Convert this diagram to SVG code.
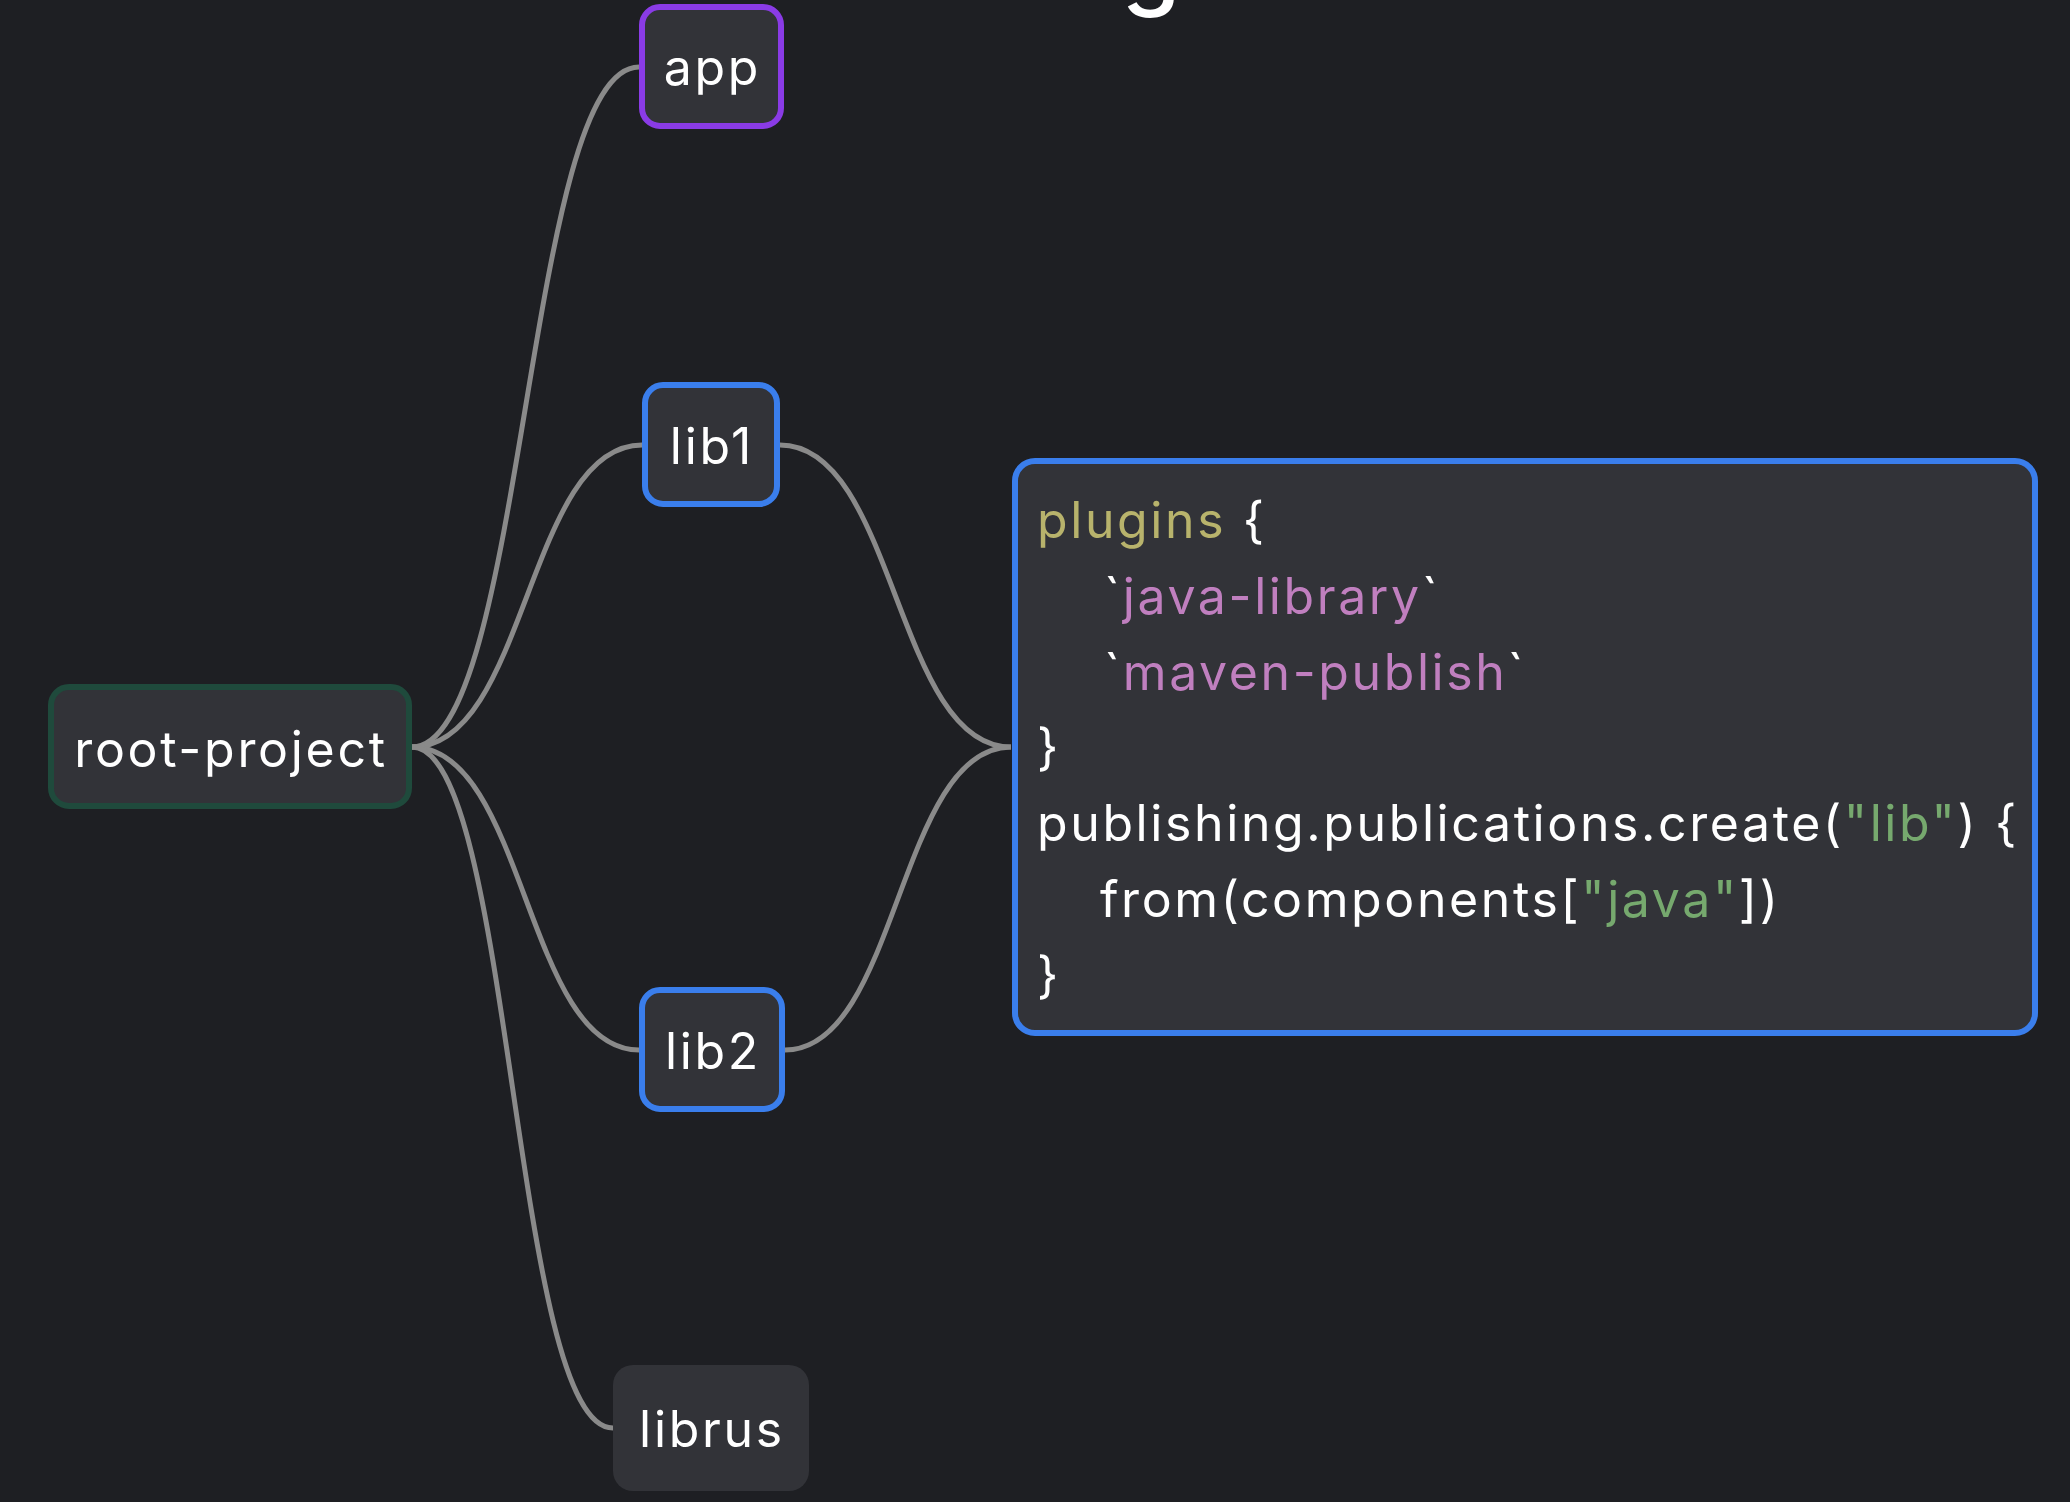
<svg xmlns="http://www.w3.org/2000/svg" width="2070" height="1502" viewBox="0 0 2070 1502">
<style>
.bg{fill:#1e1f23}
.node{fill:#323338;stroke-width:6}
.lbl{font-family:Inter,"Noto Sans",sans-serif;font-size:50px;fill:#ffffff;text-anchor:middle;letter-spacing:2.7px}
.code{font-family:Inter,"Noto Sans",sans-serif;font-size:50px;fill:#ffffff;letter-spacing:2.6px}
.kw{fill:#b8b36c}
.str{fill:#c07fbf}
.lit{fill:#76a96e}
.link{fill:none;stroke:#8a8a8a;stroke-width:5}
</style>
<rect class="bg" x="0" y="0" width="2070" height="1502"/>
<text x="1151" y="-3" font-family="Inter,'Noto Sans',sans-serif" font-size="96" font-weight="500" fill="#ffffff" text-anchor="middle">g</text>
<g id="connectors">
<path class="link" d="M412,747 C525.5,747 525.5,67 639,67"/>
<path class="link" d="M412,747 C527,747 527,445 642,445"/>
<path class="link" d="M412,747 C525.5,747 525.5,1050 639,1050"/>
<path class="link" d="M412,747 C512.5,747 512.5,1428 613,1428"/>
<path class="link" d="M780,445 C895.5,445 895.5,747 1011,747"/>
<path class="link" d="M785,1050 C898,1050 898,747 1011,747"/>
</g>
<g id="root-project">
<rect class="node" x="51" y="687" width="358" height="119" rx="18" stroke="#1f4a3c"/>
<text class="lbl" x="231" y="767">root-project</text>
</g>
<g id="app">
<rect class="node" x="642" y="7" width="139" height="119" rx="18" stroke="#8a3be6"/>
<text class="lbl" x="712.5" y="85">app</text>
</g>
<g id="lib1">
<rect class="node" x="645" y="385" width="132" height="119" rx="18" stroke="#3a7eec"/>
<text class="lbl" x="712" y="464">lib1</text>
</g>
<g id="lib2">
<rect class="node" x="642" y="990" width="140" height="119" rx="18" stroke="#3a7eec"/>
<text class="lbl" x="713" y="1069">lib2</text>
</g>
<g id="librus">
<rect class="node" x="613" y="1365" width="196" height="126" rx="20" stroke="none"/>
<text class="lbl" x="712" y="1447">librus</text>
</g>
<g id="code">
<rect class="node" x="1015" y="461" width="1020" height="572" rx="20" stroke="#3a7eec"/>
<text class="code" x="1037" y="538"><tspan class="kw">plugins</tspan> {</text>
<text class="code" x="1104" y="614">`<tspan class="str">java-library</tspan>`</text>
<text class="code" x="1104" y="690">`<tspan class="str">maven-publish</tspan>`</text>
<text class="code" x="1037" y="765">}</text>
<text class="code" x="1037" y="841">publishing.publications.create(<tspan class="lit">"lib"</tspan>) {</text>
<text class="code" x="1100" y="917">from(components[<tspan class="lit">"java"</tspan>])</text>
<text class="code" x="1037" y="993">}</text>
</g>
</svg>
